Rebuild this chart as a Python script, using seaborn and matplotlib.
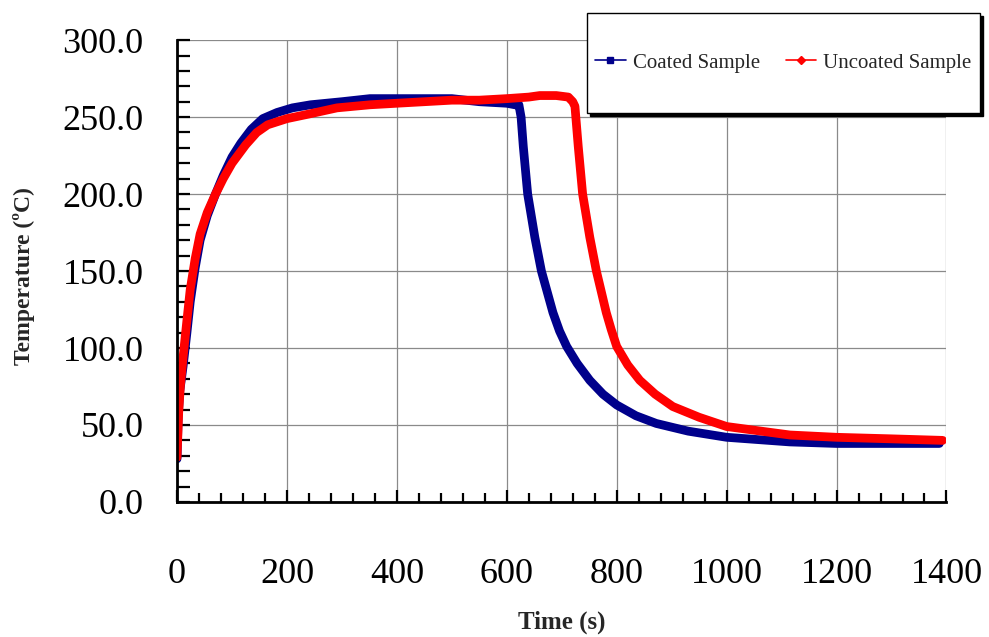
import matplotlib
matplotlib.use('agg')
import matplotlib.pyplot as plt
import seaborn as sns
import pandas as pd
from matplotlib.lines import Line2D
from matplotlib.patches import Rectangle
from matplotlib.ticker import MultipleLocator, FormatStrFormatter

# values
coated_time = [0, 2, 5, 11, 18, 24, 33, 42, 55, 70, 84, 100, 116, 135, 156, 182, 210,
               243, 300, 351, 400, 450, 500, 550, 600, 615, 622, 626, 630, 638, 651,
               663, 684, 696, 709, 728, 751, 775, 800, 835, 872, 930, 1000, 1115, 1200,
               1300, 1387]
coated_temp = [28, 55, 72, 88, 110, 130, 152, 170, 186, 200, 212, 224, 233, 242, 249,
               253, 256, 258, 260, 262, 262, 262, 262, 260, 259, 258, 258, 250, 231,
               200, 172, 150, 123, 111, 101, 90, 79, 70, 63, 56, 51, 46, 42, 39, 38,
               38, 38]

uncoated_time = [0, 3, 6, 11, 18, 24, 29, 33, 42, 55, 70, 84, 100, 125, 145, 165, 200,
                 240, 291, 351, 400, 450, 500, 550, 600, 640, 660, 690, 712, 720, 724,
                 730, 738, 751, 763, 781, 790, 800, 820, 842, 870, 902, 950, 1000, 1115,
                 1200, 1300, 1393]
uncoated_temp = [29, 58, 75, 94, 118, 138, 149, 158, 174, 188, 200, 210, 220, 232, 240,
                 245, 249, 252, 256, 258, 259, 260, 261, 261, 262, 263, 264, 264, 263,
                 260, 257, 231, 200, 172, 150, 123, 112, 101, 89, 79, 70, 62, 55, 49,
                 43.5, 42, 41, 40]

series_names = ["Coated Sample", "Uncoated Sample"]
series_colors = ["#00008b", "#ff0000"]

df_coated = pd.DataFrame({"time": coated_time, "temp": coated_temp})
df_uncoated = pd.DataFrame({"time": uncoated_time, "temp": uncoated_temp})

sns.set_style("white")
plt.rcParams['font.family'] = ['Liberation Serif', 'DejaVu Serif']

fig = plt.figure(figsize=(9.89, 6.37), dpi=100)
ax = fig.add_axes([0.179, 0.212, 0.778, 0.725])

sns.lineplot(data=df_coated, x="time", y="temp", ax=ax, color=series_colors[0],
             linewidth=6.3, sort=False, estimator=None)
sns.lineplot(data=df_uncoated, x="time", y="temp", ax=ax, color=series_colors[1],
             linewidth=6.3, sort=False, estimator=None)

ax.set_xlim(0, 1400)
ax.set_ylim(0, 300)
ax.xaxis.set_major_locator(MultipleLocator(200))
ax.xaxis.set_minor_locator(MultipleLocator(40))
ax.yaxis.set_major_locator(MultipleLocator(50))
ax.yaxis.set_minor_locator(MultipleLocator(10))
ax.yaxis.set_major_formatter(FormatStrFormatter('%.1f'))

ax.grid(True, which='major', color='#8a8a8a', linewidth=0.9)
ax.set_axisbelow(True)

for side in ['left', 'bottom']:
    ax.spines[side].set_linewidth(2.0)
    ax.spines[side].set_color('black')
for side in ['top', 'right']:
    ax.spines[side].set_visible(False)

ax.tick_params(axis='both', which='both', direction='in', width=1.6, color='black',
               labelsize=26, labelcolor='black', top=False, right=False,
               left=True, bottom=True)
ax.tick_params(axis='y', which='major', length=9, pad=24)
ax.tick_params(axis='y', which='minor', length=9)
ax.tick_params(axis='x', which='major', length=9, pad=40)
ax.tick_params(axis='x', which='minor', length=6.5)

ax.set_xlabel("Time (s)", fontsize=18, fontweight='bold')
ax.set_ylabel("Temperature (ºC)", fontsize=17, fontweight='bold')
ax.xaxis.set_label_coords(0.5, -0.235)
ax.yaxis.set_label_coords(-0.184, 0.49)

# legend box with shadow, sitting over the top right corner
x0, y0, w, h = 587 / 989, 1 - 113 / 637, 393 / 989, 100 / 637
fig.patches.append(Rectangle((x0 + 3 / 989, y0 - 3 / 637), w, h, transform=fig.transFigure,
                             facecolor='black', edgecolor='black', zorder=5))
fig.patches.append(Rectangle((x0, y0), w, h, transform=fig.transFigure,
                             facecolor='white', edgecolor='black', linewidth=1.0, zorder=6))

handles = [Line2D([], [], color=series_colors[0], linewidth=1.2, marker='s', markersize=5),
           Line2D([], [], color=series_colors[1], linewidth=1.2, marker='D', markersize=3.8)]
leg = fig.legend(handles, series_names, loc='center', bbox_to_anchor=(x0 + w / 2, y0 + h / 2),
                 bbox_transform=fig.transFigure, ncol=2, frameon=False, fontsize=15,
                 handlelength=1.45, handletextpad=0.35, columnspacing=1.25)
leg.set_zorder(7)

plt.savefig("out.png", dpi=100)
plt.clf()
plt.close()
